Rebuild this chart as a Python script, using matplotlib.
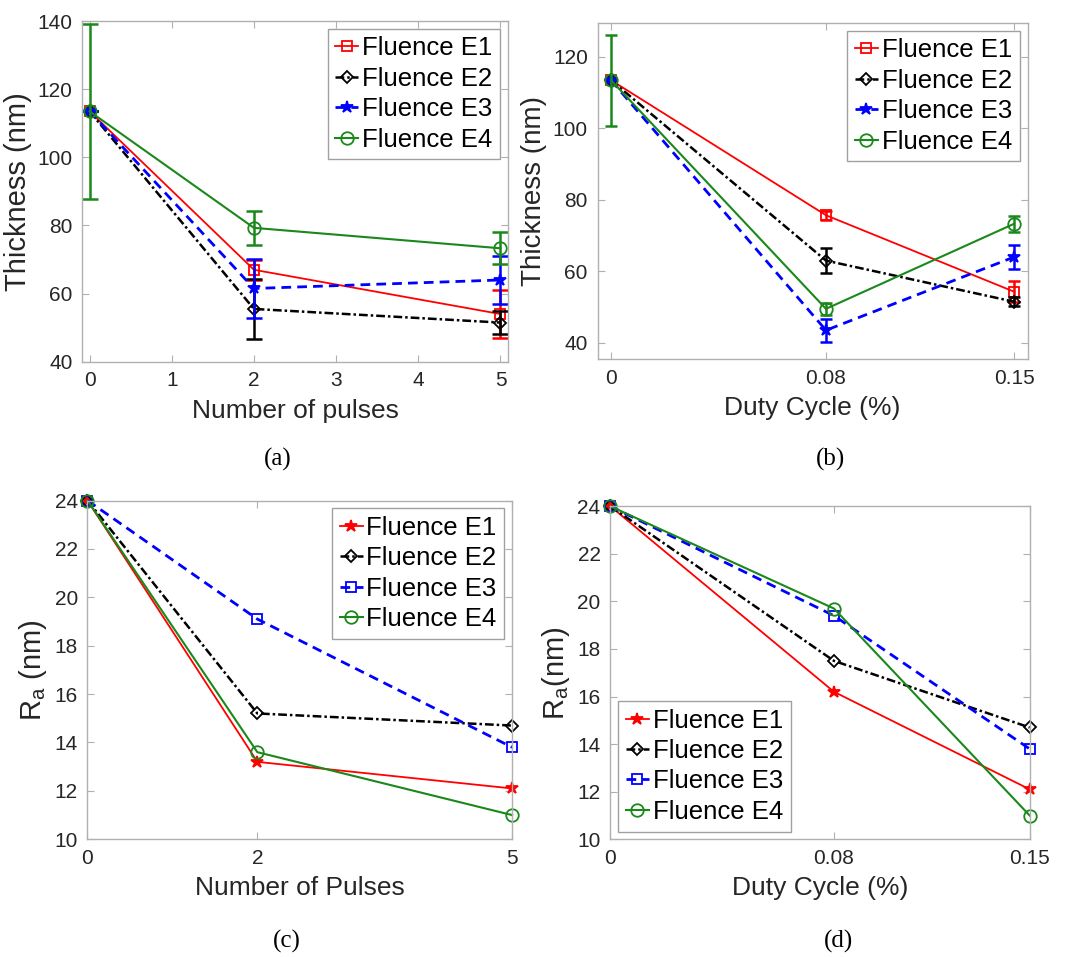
import numpy as np
import matplotlib.pyplot as plt

plt.rcParams['font.family'] = ['Liberation Sans', 'DejaVu Sans']
plt.rcParams['mathtext.fontset'] = 'custom'
plt.rcParams['mathtext.rm'] = 'Liberation Sans'
plt.rcParams['mathtext.it'] = 'Liberation Sans'

# data
pulses = [0, 2, 5]
duty = [0, 0.08, 0.15]
labels = ['Fluence E1', 'Fluence E2', 'Fluence E3', 'Fluence E4']

thick_pulses = [[113.5, 67.0, 54.0],
                [113.5, 55.5, 51.5],
                [113.5, 61.5, 64.0],
                [113.5, 79.3, 73.3]]
thick_pulses_err = [[0, 3.0, 7.0],
                    [0, 8.8, 3.5],
                    [0, 8.8, 7.0],
                    [25.7, 5.0, 4.7]]

thick_duty = [[113.5, 75.7, 54.3],
              [113.5, 63.0, 51.5],
              [113.5, 43.5, 64.0],
              [113.5, 49.5, 73.3]]
thick_duty_err = [[0, 1.2, 3.0],
                  [0, 3.5, 1.3],
                  [0, 3.2, 3.3],
                  [12.7, 1.7, 2.3]]

ra_pulses = [[24, 13.2, 12.1],
             [24, 15.2, 14.7],
             [24, 19.1, 13.8],
             [24, 13.6, 11.0]]
ra_duty = [[24, 16.2, 12.1],
           [24, 17.5, 14.7],
           [24, 19.4, 13.8],
           [24, 19.7, 11.0]]

colors = ['#ff0000', '#000000', '#0000ff', '#1a881a']
styles = ['-', (0, (3.5, 1.2, 1, 1.2)), (0, (3.5, 2.2)), '-']
widths = [1.3, 1.8, 2.0, 1.5]
mk_top = ['s', 'D', '*', 'o']
mk_bot = ['*', 'D', 's', 'o']
mk_size = {'s': 7, 'D': 6, '*': 9, 'o': 9}

fig = plt.figure(figsize=(10.67, 9.57), dpi=100)
ax_a = fig.add_axes([0.077, 0.622, 0.399, 0.356])
ax_b = fig.add_axes([0.560, 0.625, 0.403, 0.351])
ax_c = fig.add_axes([0.082, 0.123, 0.398, 0.354])
ax_d = fig.add_axes([0.572, 0.123, 0.393, 0.348])


def style_axes(ax):
    for s in ax.spines.values():
        s.set_color('#b0b0b0')
        s.set_linewidth(1.0)
    ax.tick_params(direction='in', top=True, right=True, length=5,
                   color='#b0b0b0', labelcolor='#262626', labelsize=15, pad=7)


def add_legend(ax, loc):
    leg = ax.legend(loc=loc, fontsize=18.5, handlelength=0.9, handletextpad=0.15,
                    borderpad=0.3, labelspacing=0.25, borderaxespad=0.3,
                    fancybox=False, framealpha=1, edgecolor='#a0a0a0')
    leg.get_frame().set_linewidth(1.0)


for i in range(4):
    m = mk_top[i]
    fc = colors[i] if m == '*' else 'none'
    ax_a.errorbar(pulses, thick_pulses[i], yerr=thick_pulses_err[i], fmt='none',
                  ecolor=colors[i], capsize=6, elinewidth=1.8, capthick=1.8)
    ax_a.plot(pulses, thick_pulses[i], color=colors[i], ls=styles[i], lw=widths[i],
              marker=m, ms=mk_size[m], mfc=fc, mew=1.3, label=labels[i])
    ax_b.errorbar(duty, thick_duty[i], yerr=thick_duty_err[i], fmt='none',
                  ecolor=colors[i], capsize=4, elinewidth=1.8, capthick=1.8)
    ax_b.plot(duty, thick_duty[i], color=colors[i], ls=styles[i], lw=widths[i],
              marker=m, ms=mk_size[m], mfc=fc, mew=1.3, label=labels[i])
    m = mk_bot[i]
    fc = colors[i] if m == '*' else 'none'
    ax_c.plot(pulses, ra_pulses[i], color=colors[i], ls=styles[i], lw=widths[i],
              marker=m, ms=mk_size[m], mfc=fc, mew=1.3, label=labels[i])
    ax_d.plot(duty, ra_duty[i], color=colors[i], ls=styles[i], lw=widths[i],
              marker=m, ms=mk_size[m], mfc=fc, mew=1.3, label=labels[i])

ax_a.set_xlim(-0.09, 5.09)
ax_a.set_ylim(40, 140)
ax_a.set_xticks([0, 1, 2, 3, 4, 5])
ax_a.set_yticks([40, 60, 80, 100, 120, 140])
ax_a.set_xlabel('Number of pulses', fontsize=19, color='#262626', labelpad=6)
ax_a.set_ylabel('Thickness (nm)', fontsize=21, color='#262626', labelpad=4)

ax_b.set_xlim(-0.005, 0.155)
ax_b.set_ylim(35.5, 129.5)
ax_b.set_xticks(duty)
ax_b.set_xticklabels(['0', '0.08', '0.15'])
ax_b.set_yticks([40, 60, 80, 100, 120])
ax_b.set_xlabel('Duty Cycle (%)', fontsize=19, color='#262626', labelpad=6)
ax_b.set_ylabel('Thickness (nm)', fontsize=20, color='#262626', labelpad=4)

ax_c.set_xlim(0, 5)
ax_c.set_ylim(10, 24)
ax_c.set_xticks(pulses)
ax_c.set_yticks(np.arange(10, 25, 2))
ax_c.set_xlabel('Number of Pulses', fontsize=19, color='#262626', labelpad=6)
ax_c.set_ylabel(r'$\mathregular{R_a}$ (nm)', fontsize=21, color='#262626', labelpad=4)

ax_d.set_xlim(0, 0.15)
ax_d.set_ylim(10, 24)
ax_d.set_xticks(duty)
ax_d.set_xticklabels(['0', '0.08', '0.15'])
ax_d.set_yticks(np.arange(10, 25, 2))
ax_d.set_xlabel('Duty Cycle (%)', fontsize=19, color='#262626', labelpad=6)
ax_d.set_ylabel(r'$\mathregular{R_a}$(nm)', fontsize=21, color='#262626', labelpad=4)

for ax in [ax_a, ax_b, ax_c, ax_d]:
    style_axes(ax)
    for ln in ax.get_lines():
        ln.set_clip_on(False)
    for coll in ax.collections:
        coll.set_clip_on(False)

add_legend(ax_a, 'upper right')
add_legend(ax_b, 'upper right')
add_legend(ax_c, 'upper right')
add_legend(ax_d, 'lower left')

cap = dict(fontsize=18, family='Liberation Serif', ha='center', va='center')
fig.text(0.26, 0.52, '(a)', **cap)
fig.text(0.778, 0.52, '(b)', **cap)
fig.text(0.269, 0.016, '(c)', **cap)
fig.text(0.786, 0.016, '(d)', **cap)

fig.savefig('out.png', dpi=100)
